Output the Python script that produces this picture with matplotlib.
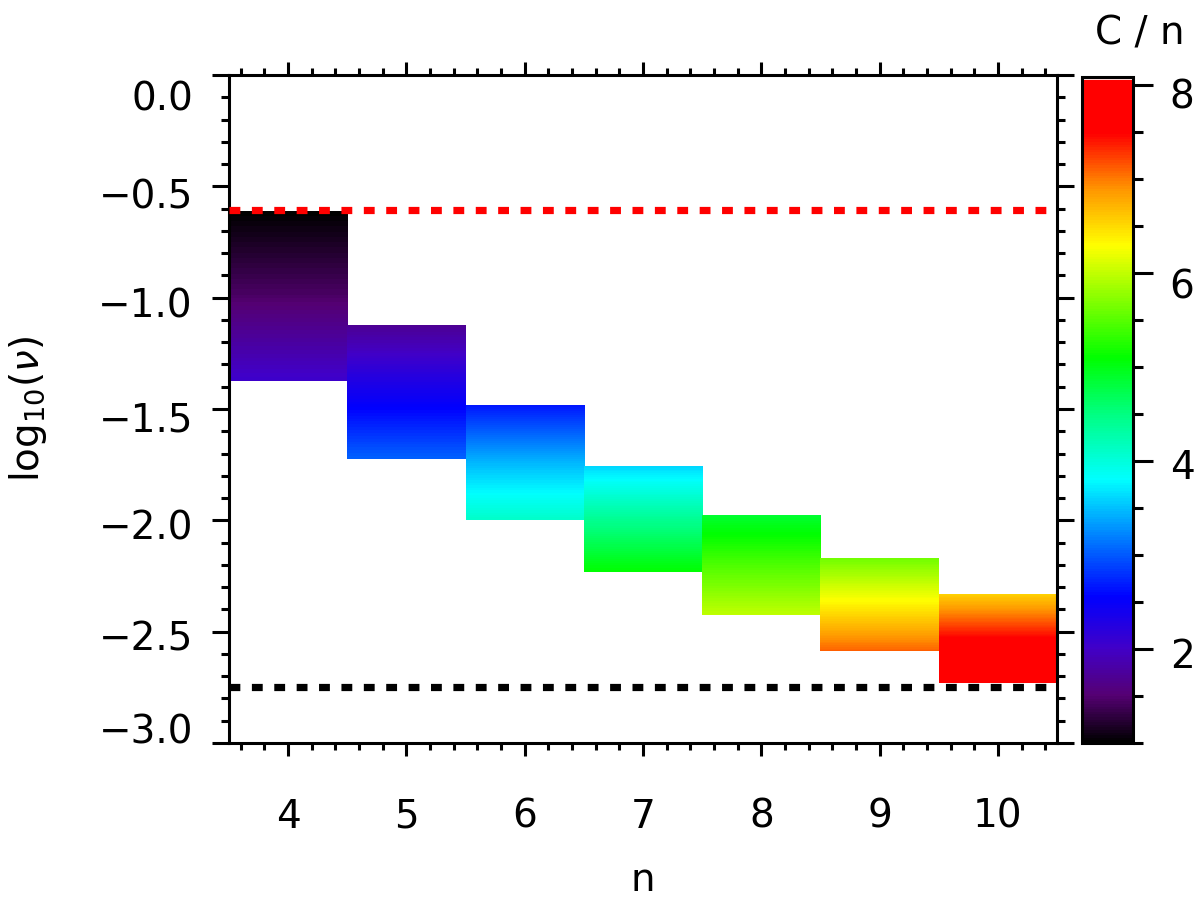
import numpy as np
import matplotlib
matplotlib.use('Agg')
import matplotlib.pyplot as plt
from matplotlib import transforms
from matplotlib.colors import LinearSegmentedColormap, Normalize
from matplotlib.cm import ScalarMappable
from matplotlib.patches import Rectangle
from matplotlib.ticker import MultipleLocator, FuncFormatter

# Data: one block per n, vertical extent in log10(nu) and C/n at top, middle, bottom
n_vals = [4, 5, 6, 7, 8, 9, 10]
y_top = [-0.61, -1.123, -1.482, -1.754, -1.975, -2.169, -2.332]
y_bot = [-1.373, -1.724, -2.0, -2.23, -2.425, -2.588, -2.73]
c_top = [1.0, 1.7, 2.65, 3.6, 4.85, 5.6, 6.55]
c_mid = [1.45, 2.4, 3.45, 4.4, 5.45, 6.35, 7.5]
c_bot = [2.05, 3.05, 4.1, 5.1, 6.0, 7.1, 8.0]

# limits marked with dotted lines
upper_limit = -0.605
lower_limit = -2.75

y_ticks = [-3.0, -2.5, -2.0, -1.5, -1.0, -0.5, 0.0]
cbar_min, cbar_max = 1.0, 8.09
cbar_ticks = [2, 4, 6, 8]

# rainbow + black colour table
cmap_vals = [1.0, 1.5, 2.0, 2.55, 3.2, 3.8, 4.5, 5.1, 5.7, 6.3, 6.9, 7.5, 8.07, 8.09]
cmap_cols = ['#000000', '#550073', '#4100c8', '#0000ff', '#0082ff', '#00ffff',
             '#00ff82', '#00ff00', '#80ff00', '#ffff00', '#ff9600', '#ff0000',
             '#ff0000', '#ffdddd']
cmap = LinearSegmentedColormap.from_list(
    'rainbow_black',
    [((v - cbar_min) / (cbar_max - cbar_min), c) for v, c in zip(cmap_vals, cmap_cols)])
norm = Normalize(vmin=cbar_min, vmax=cbar_max)

fig = plt.figure(figsize=(12, 9), dpi=100)
ax = fig.add_axes([229 / 1200, 157 / 900, 828 / 1200, 668 / 900])

for i in range(len(n_vals)):
    n = n_vals[i]
    top, bot = y_top[i], y_bot[i]
    col = np.array([[c_top[i]], [c_mid[i]], [c_bot[i]]])
    h = (top - bot) / 2
    im = ax.imshow(col, cmap=cmap, norm=norm, aspect='auto', origin='upper',
                   interpolation='bilinear', interpolation_stage='data',
                   extent=(n - 0.5, n + 0.5, bot - h / 2, top + h / 2))
    clip = Rectangle((n - 0.5, bot), 1, top - bot, transform=ax.transData)
    im.set_clip_path(clip)

ax.axhline(upper_limit, color='red', lw=5.2, dashes=(1.5, 1.6), zorder=5)
ax.axhline(lower_limit, color='black', lw=5.2, dashes=(1.5, 1.6), zorder=5)

ax.set_xlim(3.5, 10.5)
ax.set_ylim(-3.0, 0.0)
ax.set_xticks(n_vals)
ax.xaxis.set_minor_locator(MultipleLocator(0.2))
ax.set_yticks(y_ticks)
ax.yaxis.set_minor_locator(MultipleLocator(0.1))
ax.yaxis.set_major_formatter(FuncFormatter(lambda v, p: ('%.1f' % v).replace('-', '\u2212')))

for s in ax.spines.values():
    s.set_linewidth(2.2)
ax.tick_params(axis='both', which='both', direction='out', top=True, right=True, width=2.2)
ax.tick_params(axis='x', which='major', length=9.5, pad=30, labelsize=28)
ax.tick_params(axis='x', which='minor', length=5)
ax.tick_params(axis='y', which='major', length=12, pad=14, labelsize=28)
ax.tick_params(axis='y', which='minor', length=6)

# IDL style: y labels sit a bit off their tick (pixels, downward)
y_shift = [-14, 4, 4, 8, 5, 7, 21]
for lab, d in zip(ax.get_yticklabels(), y_shift):
    off = transforms.ScaledTranslation(0, -d / 100, fig.dpi_scale_trans)
    lab.set_transform(lab.get_transform() + off)

ax.set_xlabel('n', fontsize=28, va='center')
ax.xaxis.set_label_coords(0.5, -0.205)
ax.set_ylabel(r'log$_{10}$($\nu$)', fontsize=28, va='center', ha='center')
ax.yaxis.set_label_coords(-0.243, 0.5)

# Colour bar
cax = fig.add_axes([1082 / 1200, 157 / 900, 51 / 1200, 666 / 900])
cb = fig.colorbar(ScalarMappable(norm=norm, cmap=cmap), cax=cax)
cb.set_ticks(cbar_ticks)
cb.ax.yaxis.set_minor_locator(MultipleLocator(0.5))
cb.outline.set_linewidth(2.2)
cb.ax.tick_params(which='both', direction='out', width=2.2, right=True, left=False)
cb.ax.tick_params(which='major', length=14.4, pad=12, labelsize=28)
cb.ax.tick_params(which='minor', length=7.2)
cb_shift = [4, 3, 10, 8]
for lab, d in zip(cb.ax.get_yticklabels(), cb_shift):
    off = transforms.ScaledTranslation(0, -d / 100, fig.dpi_scale_trans)
    lab.set_transform(lab.get_transform() + off)

fig.text(1140 / 1200, 1 - 33 / 900, 'C / n', fontsize=28, ha='center', va='center')

plt.savefig('out.png', dpi=100)
